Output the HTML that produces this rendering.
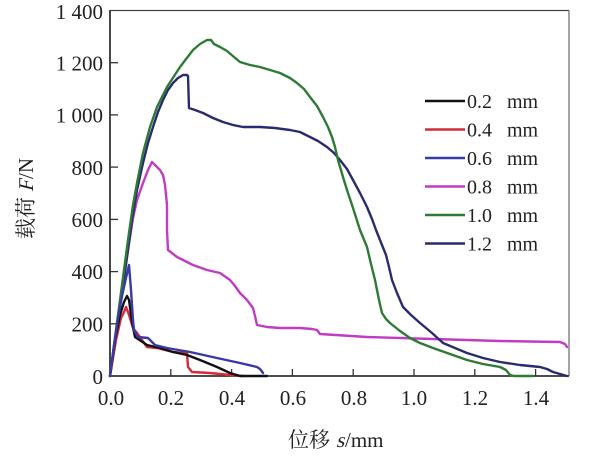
<!DOCTYPE html>
<html><head><meta charset="utf-8"><style>
html,body{margin:0;padding:0;background:#fff;}
svg{display:block;}
text{font-family:"Liberation Serif","Noto Serif CJK SC",serif;fill:#222;}
.cjk{font-family:"Noto Serif CJK SC","Liberation Serif",serif;}
</style></head><body>
<svg width="600" height="463" viewBox="0 0 600 463" xmlns="http://www.w3.org/2000/svg">
<rect width="600" height="463" fill="#fff"/>
<!-- frame -->
<line x1="110" y1="10.5" x2="569" y2="10.5" stroke="#444" stroke-width="1.2"/>
<line x1="569" y1="10.5" x2="569" y2="376" stroke="#666" stroke-width="1.2"/>
<line x1="110" y1="10" x2="110" y2="377" stroke="#333" stroke-width="1.8"/>
<line x1="109" y1="376" x2="569" y2="376" stroke="#333" stroke-width="1.8"/>
<!-- ticks -->
<g stroke="#333" stroke-width="1.3">
<line x1="110" y1="323.8" x2="118" y2="323.8"/>
<line x1="110" y1="271.6" x2="118" y2="271.6"/>
<line x1="110" y1="219.4" x2="118" y2="219.4"/>
<line x1="110" y1="167.1" x2="118" y2="167.1"/>
<line x1="110" y1="114.9" x2="118" y2="114.9"/>
<line x1="110" y1="62.7" x2="118" y2="62.7"/>
<line x1="170.8" y1="376" x2="170.8" y2="369"/>
<line x1="231.6" y1="376" x2="231.6" y2="369"/>
<line x1="292.4" y1="376" x2="292.4" y2="369"/>
<line x1="353.2" y1="376" x2="353.2" y2="369"/>
<line x1="414" y1="376" x2="414" y2="369"/>
<line x1="474.8" y1="376" x2="474.8" y2="369"/>
<line x1="535.6" y1="376" x2="535.6" y2="369"/>
</g>
<!-- y labels -->
<g font-size="21" text-anchor="end">
<text x="103" y="384">0</text>
<text x="103" y="331.5">200</text>
<text x="103" y="279">400</text>
<text x="103" y="227">600</text>
<text x="103" y="175">800</text>
<text x="103" y="122.5">1 000</text>
<text x="103" y="70.5">1 200</text>
<text x="103" y="19">1 400</text>
</g>
<!-- x labels -->
<g font-size="21" text-anchor="middle">
<text x="111" y="405">0.0</text>
<text x="171" y="405">0.2</text>
<text x="232" y="405">0.4</text>
<text x="293" y="405">0.6</text>
<text x="354" y="405">0.8</text>
<text x="414" y="405">1.0</text>
<text x="475" y="405">1.2</text>
<text x="536" y="405">1.4</text>
</g>
<!-- x axis title -->
<text class="cjk" x="288" y="447" font-size="21">位移</text>
<g transform="translate(336,447) skewX(-14)"><text x="0" y="0" font-size="21">s</text></g>
<text x="345" y="447" font-size="21">/mm</text>
<!-- y axis title -->
<g transform="translate(33,197) rotate(-90)">
<text class="cjk" x="-42" y="0" font-size="21">载荷</text>
<g transform="translate(5,0) skewX(-14)"><text x="0" y="0" font-size="21">F</text></g>
<text x="18" y="0" font-size="21">/N</text>
</g>
<!-- series -->
<g fill="none" stroke-width="2.4" stroke-linejoin="round" stroke-linecap="round">
<path stroke="#c03cc0" d="M110,376 L116,335 L122,292 L128,250 L133,218 L137,200 L143,183 L148,170 L152,162 L155,165 L160,170 L163,175 L165,185 L167,205 L167,230 L168,250 L177,257 L185,261 L193,265 L207,270 L220,273 L230,280 L235,286 L240,293 L247,300 L253,308 L255,316 L257,325 L267,327 L280,328 L300,328 L312,329 L317,330 L320,334 L367,337 L433,339 L500,341 L560,342 L565,344 L567,347"/>
<path stroke="#2a2a6e" d="M110,376 L116,335 L122,292 L128,250 L132,220 L137,190 L143,163 L148,143 L153,127 L158,112 L163,100 L168,90 L173,83 L178,78 L183,75 L187,75 L188,76 L189,108 L195,110 L203,113 L213,118 L223,122 L233,125 L243,127 L260,127 L275,128 L290,130 L300,132 L310,137 L318,141 L327,147 L334,153 L340,160 L347,169 L353,180 L360,193 L367,207 L372,219 L376,230 L382,245 L386,255 L389,267 L392,280 L397,293 L403,307 L411,315 L420,323 L432,333 L443,343 L455,348 L467,353 L483,358 L500,362 L520,365 L540,367 L547,369 L553,372 L560,374 L567,376"/>
<path stroke="#2e7a36" d="M110,376 L116,330 L122,285 L128,240 L133,205 L137,183 L143,153 L150,127 L157,107 L167,87 L180,67 L193,50 L200,44 L207,40 L211,40 L214,44 L220,47 L227,51 L234,57 L240,62 L250,65 L260,67 L270,70 L280,73 L290,78 L297,83 L304,89 L310,97 L317,106 L323,117 L328,127 L332,137 L335,147 L338,160 L343,177 L347,190 L353,208 L360,230 L367,247 L371,264 L375,280 L379,300 L382,313 L386,319 L390,323 L400,331 L410,338 L420,343 L433,348 L450,354 L467,360 L483,364 L500,367 L506,370 L510,375 L514,376 L533,376"/>
<path stroke="#d42a3c" d="M110,376 L116,340 L121,318 L124,312 L126,307 L128,312 L130,318 L133,328 L137,333 L147,347 L157,348 L173,352 L187,353 L188,367 L192,372 L210,373 L230,375 L243,376"/>
<path stroke="#111" d="M110,376 L115,340 L120,315 L124,302 L127,296 L129,300 L132,322 L135,337 L147,345 L160,348 L173,352 L187,355 L200,360 L217,367 L230,373 L240,376 L267,376"/>
<path stroke="#3a3aa6" d="M110,376 L114,345 L118,318 L122,296 L126,278 L129,265 L131,290 L133,320 L134,330 L138,337 L148,338 L155,345 L167,348 L190,352 L217,358 L240,363 L257,367 L260,369 L263,373"/>
</g>
<!-- legend -->
<g stroke-width="2.4">
<line x1="425" y1="101" x2="465" y2="101" stroke="#111"/>
<line x1="425" y1="129.5" x2="465" y2="129.5" stroke="#d42a3c"/>
<line x1="425" y1="158" x2="465" y2="158" stroke="#3a3aa6"/>
<line x1="425" y1="186.5" x2="465" y2="186.5" stroke="#c03cc0"/>
<line x1="425" y1="215" x2="465" y2="215" stroke="#2e7a36"/>
<line x1="425" y1="243.5" x2="465" y2="243.5" stroke="#2a2a6e"/>
</g>
<g font-size="20">
<text x="467" y="108">0.2<tspan x="507">mm</tspan></text>
<text x="467" y="136.5">0.4<tspan x="507">mm</tspan></text>
<text x="467" y="165">0.6<tspan x="507">mm</tspan></text>
<text x="467" y="193.5">0.8<tspan x="507">mm</tspan></text>
<text x="467" y="222">1.0<tspan x="507">mm</tspan></text>
<text x="467" y="250.5">1.2<tspan x="507">mm</tspan></text>
</g>
</svg>
</body></html>
